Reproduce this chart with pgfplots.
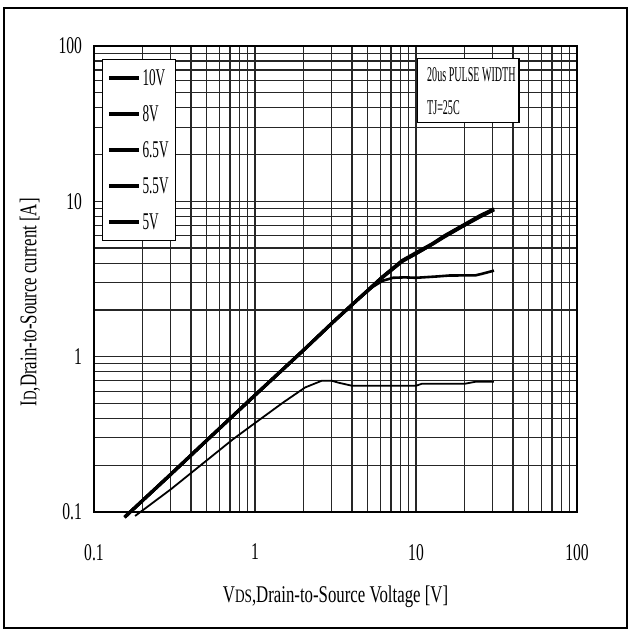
\documentclass[border=0pt]{standalone}
\usepackage{fontspec}
\setmainfont[FakeStretch=0.7]{Liberation Serif}
\newfontfamily\tickfont[FakeStretch=0.65]{Liberation Serif}
\newfontfamily\narrowfont[FakeStretch=0.55]{Liberation Serif}
\newfontfamily\boxfont[FakeStretch=0.48]{Liberation Serif}
\usepackage{pgfplots}
\pgfplotsset{compat=1.18}
\begin{document}
\begin{tikzpicture}
\useasboundingbox (-47pt,-59pt) rectangle (268pt,256pt);
\draw[line width=0.7pt] (-45pt,-58pt) rectangle (266.5pt,252pt);
\begin{axis}[
  at={(0pt,0pt)}, anchor=south west,
  scale only axis, width=241.5pt, height=233pt,
  xmode=log, ymode=log,
  xmin=0.1, xmax=100, ymin=0.1, ymax=100,
  xtick={0.1,1,10,100}, xticklabels={0.1,1,10,100},
  ytick={0.1,1,10,100}, yticklabels={0.1,1,10,100},
  /pgf/number format/assume math mode=true,
  grid=both,
  major grid style={black!85, line width=0.6pt},
  minor grid style={black!85, line width=0.6pt},
  axis line style={black, line width=0.8pt},
  tick style={draw=none},
  font=\fontsize{12}{14}\selectfont,
  ticklabel style={font=\tickfont\fontsize{12}{14}\selectfont},
  xticklabel style={yshift=-12.5pt},
  yticklabel style={xshift=-2.5pt},
  xlabel={V{\fontsize{9.5}{11}\selectfont DS},Drain-to-Source Voltage [V]},
  ylabel={I{\fontsize{9.5}{11}\selectfont D},Drain-to-Source current [A]},
  xlabel style={at={(axis description cs:0.5,-0.1824)}, anchor=center},
  ylabel style={at={(axis description cs:-0.1325,0.45)}, anchor=center},
  clip=false,
  legend style={at={(0.016,0.972)}, anchor=north west, draw=black, fill=white,
    font=\narrowfont\fontsize{12}{14}\selectfont,
    inner xsep=2.5pt, inner ysep=4.5pt, row sep=8.5pt,
    nodes={inner sep=1pt, text height=7.5pt, text depth=0pt}},
  legend cell align=left,
  legend image code/.code={\draw[#1, line width=1.7pt] (0pt,0pt) -- (15pt,0pt);},
]
% 10V
\addplot[black, line width=1.6pt] coordinates {
(0.155,0.0926) (0.3,0.175) (0.51,0.294) (1,0.565) (2,1.1) (3.15,1.72) (4.4,2.36)
(6.16,3.25) (8.2,4.16) (10,4.67) (12.6,5.33) (15,6.0) (19.5,7.0) (25,8.1) (30.5,8.95)};
\addlegendentry{10V}
% 8V
\addplot[black, line width=1.6pt] coordinates {
(0.155,0.0926) (0.3,0.175) (0.51,0.294) (1,0.565) (2,1.1) (3.15,1.72) (4.4,2.36)
(6.16,3.25) (8.2,4.12) (10,4.62) (12.6,5.3) (15,5.95) (19.5,6.95) (25,8.0) (30.5,8.85)};
\addlegendentry{8V}
% 6.5V
\addplot[black, line width=1.6pt] coordinates {
(0.155,0.0926) (0.3,0.175) (0.51,0.294) (1,0.565) (2,1.1) (3.15,1.72) (4.4,2.36)
(6.16,3.22) (8.2,4.1) (10,4.6) (12.6,5.28) (15,5.9) (19.5,6.9) (25,7.95) (30.5,8.8)};
\addlegendentry{6.5V}
% 5.5V
\addplot[black, line width=1.3pt] coordinates {
(0.155,0.0926) (0.3,0.175) (0.51,0.294) (1,0.565) (2,1.1) (3.15,1.72) (4.4,2.36)
(5.4,2.82) (6.2,3.08) (7.2,3.22) (8.5,3.24) (10,3.22) (13.3,3.28) (16.1,3.33) (23.5,3.34) (25.8,3.42) (30.5,3.58)};
\addlegendentry{5.5V}
% 5V
\addplot[black, line width=0.9pt] coordinates {
(0.18,0.0943) (0.3,0.14) (0.73,0.294) (1,0.374) (1.5,0.508) (2.05,0.634) (2.6,0.70)
(3.0,0.70) (3.3,0.68) (4.0,0.65) (10,0.65) (10.9,0.67) (20.2,0.67) (23.5,0.69) (30.5,0.69)};
\addlegendentry{5V}
\draw[black, line width=0.6pt, fill=white] (rel axis cs:0.669,0.974) rectangle (rel axis cs:0.880,0.835);
\node[anchor=west, inner sep=0pt, font=\boxfont\fontsize{10.5}{12}\selectfont] at (rel axis cs:0.689,0.938) {20us PULSE WIDTH};
\node[anchor=west, inner sep=0pt, font=\boxfont\fontsize{10.5}{12}\selectfont] at (rel axis cs:0.689,0.867) {TJ=25C};
\end{axis}
\end{tikzpicture}
\end{document}
